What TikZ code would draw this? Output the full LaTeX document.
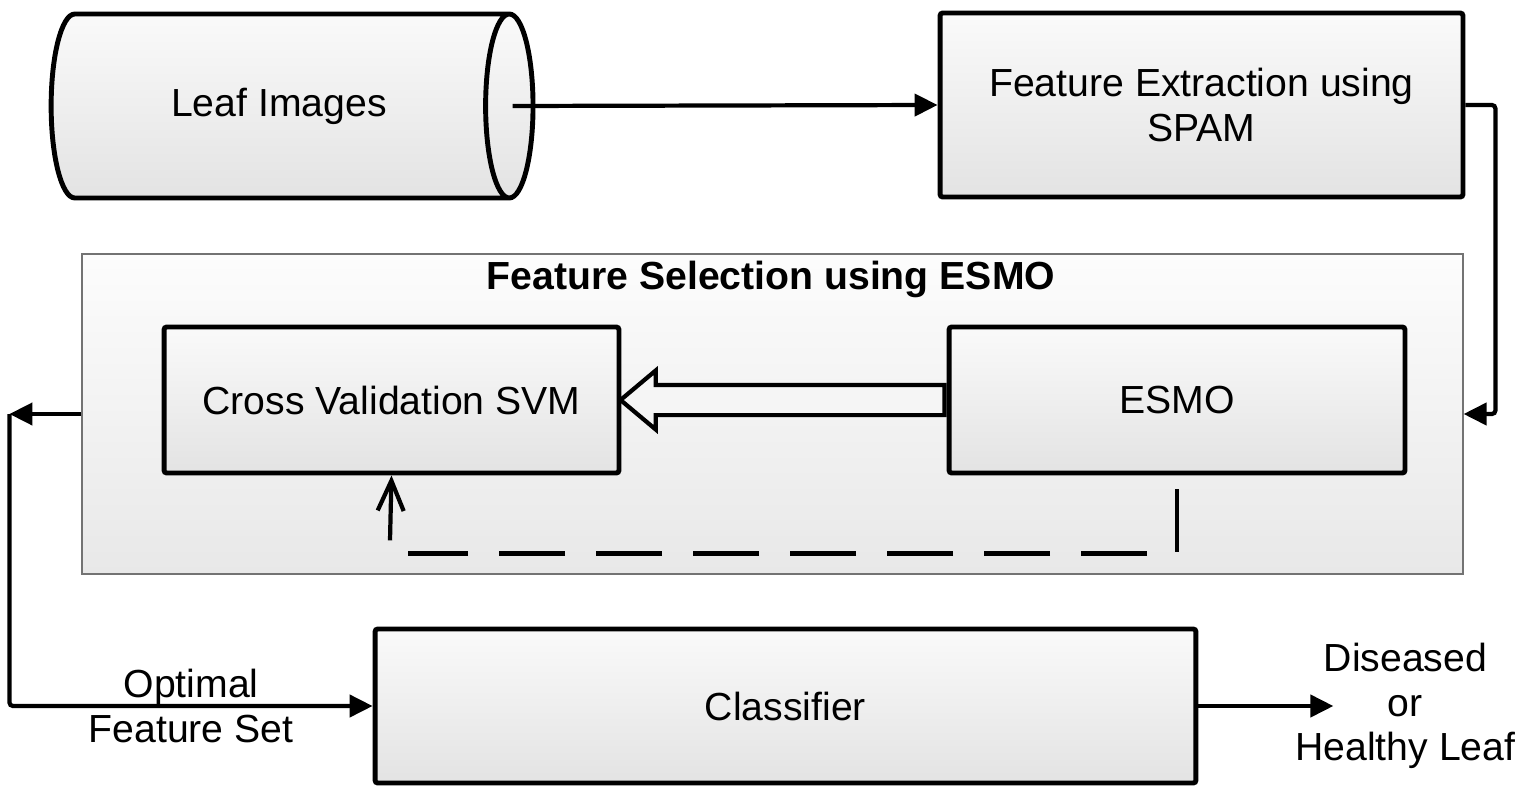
\documentclass[tikz,border=0pt]{standalone}
\usepackage{fontspec}
\setmainfont{Liberation Sans}
\usetikzlibrary{positioning,calc,arrows.meta,shapes.geometric,shapes.arrows}

\tikzset{
    box/.style={draw, line width=2.8pt, rounded corners=1.5pt,
        top color=white!98!black, bottom color=white!89!black,
        align=center, inner sep=0pt},
    groupbox/.style={draw=black!55, line width=0.8pt,
        top color=white!99!black, bottom color=white!91!black,
        inner sep=0pt},
    hollow/.style={draw, line width=2.4pt, single arrow, shape border rotate=180,
        minimum height=6.48cm, minimum width=1.1cm,
        single arrow head extend=0.29cm, single arrow tip angle=80,
        inner xsep=0pt, inner ysep=0.26cm, fill=white!96!black},
    link/.style={line width=2.4pt, rounded corners=2pt,
        -{Triangle[length=0.46cm, width=0.44cm]}},
}

\begin{document}
\begin{tikzpicture}[x=0.02cm, y=-0.02cm,
        every node/.style={font=\fontsize{22.3}{25.5}\selectfont}]
    \useasboundingbox (0,0) rectangle (1520,794);

    % top row
    \node[box, cylinder, shape aspect=1.3, rounded corners=0pt,
        minimum height=9.64cm, minimum width=3.68cm] (leaf) at (279,106) {Leaf Images};
    \node[box, minimum width=10.46cm, minimum height=3.68cm] (fe) at (1201.5,105)
        {Feature Extraction using\\SPAM};

    % feature selection group
    \node[groupbox, minimum width=27.62cm, minimum height=6.4cm] (selection) at (772.5,414) {};
    \node[font=\fontsize{22.3}{25.5}\selectfont\bfseries] (seltitle) at (771,279)
        {Feature Selection using ESMO};
    \node[box, minimum width=9.1cm, minimum height=2.92cm] (cv) at (391.5,400) {Cross Validation SVM};
    \node[box, minimum width=9.12cm, minimum height=2.92cm] (esmo) at (1177,400) {ESMO};
    \node[hollow, anchor=tail] (push) at (esmo.west) {};

    % classifier
    \node[box, minimum width=16.42cm, minimum height=3.08cm] (cls) at (785.5,706) {Classifier};

    % connectors
    \draw[link] ($(leaf.top)+(-23,0)$) -- (fe.west);
    \draw[link] (fe.east) -- ++(30,0) |- (selection.east);
    \draw[link] (selection.west) -- ++(-72,0) coordinate (turn);
    \draw[link] (turn) |- node[pos=0.75, align=center] (optset) {Optimal\\Feature Set} (cls.west);
    \draw[link] (cls.east) -- ++(135,0) coordinate (outtip);
    \node[align=center] (verdict) at ($(outtip)+(72,0)$) {Diseased\\or\\Healthy Leaf};

    % feedback
    \coordinate (fbtop) at ($(esmo.south)+(0,14)$);
    \coordinate (fbbot) at ($(esmo.south)+(0,77)$);
    \draw[line width=2.4pt] (fbtop) -- (fbbot);
    \draw[line width=2.4pt, dash pattern=on 1.32cm off 0.62cm]
        ($(fbbot)+(-30,1)$) -- ($(cv.south)+(16.5,78)$);
    \draw[line width=2.4pt, -{Straight Barb[length=0.6cm, width=0.52cm]}]
        ($(cv.south)+(-1.5,65)$) -- (cv.south);
\end{tikzpicture}
\end{document}
